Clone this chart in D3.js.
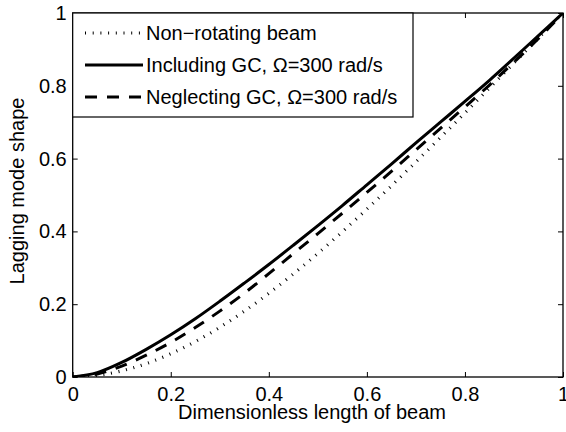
<!DOCTYPE html>
<html>
<head>
<meta charset="utf-8">
<script src="https://cdn.jsdelivr.net/npm/d3@7"></script>
<style>
  html, body { margin: 0; padding: 0; background: #fff; }
  svg { display: block; font-family: "Liberation Sans", Arial, Helvetica, sans-serif; }
</style>
</head>
<body>
<svg id="chart" width="566" height="432"></svg>
<script>
// Dimensionless position along the beam
const xs = [0, 0.05, 0.1, 0.15, 0.2, 0.25, 0.3, 0.35, 0.4, 0.45, 0.5,
            0.55, 0.6, 0.65, 0.7, 0.75, 0.8, 0.85, 0.9, 0.95, 1];

// Lagging mode shapes
const nonRotating = [0, 0.0043, 0.0168, 0.0368, 0.0639, 0.0973, 0.1365, 0.1809, 0.2299, 0.2830, 0.3395,
                     0.3991, 0.4611, 0.5252, 0.5909, 0.6578, 0.7255, 0.7938, 0.8624, 0.9312, 1.0];
const includingGC = [0, 0.012, 0.040, 0.076, 0.116, 0.160, 0.208, 0.258, 0.309, 0.362, 0.416,
                     0.471, 0.528, 0.585, 0.643, 0.700, 0.757, 0.815, 0.876, 0.938, 1.0];
const neglectingGC = [0, 0.008, 0.030, 0.060, 0.095, 0.136, 0.181, 0.230, 0.284, 0.339, 0.394,
                      0.450, 0.507, 0.565, 0.624, 0.683, 0.742, 0.802, 0.865, 0.930, 1.0];

const xTicks = [0, 0.2, 0.4, 0.6, 0.8, 1];
const yTicks = [0, 0.2, 0.4, 0.6, 0.8, 1];
const tickLabels = ["0", "0.2", "0.4", "0.6", "0.8", "1"];

const seriesNames = ["Non\u2212rotating beam", "Including GC, \u03A9=300 rad/s", "Neglecting GC, \u03A9=300 rad/s"];

const svg = d3.select("#chart");
const margin = { left: 72.7, right: 3, top: 13, bottom: 55 };
const W = 566, H = 432;
const x = d3.scaleLinear().domain([0, 1]).range([margin.left, W - margin.right]);
const y = d3.scaleLinear().domain([0, 1]).range([H - margin.bottom, margin.top]);

const fontSize = 20;
const labelFmt = d => tickLabels[xTicks.indexOf(d)];

svg.append("defs").append("clipPath").attr("id", "plotclip")
  .append("rect")
  .attr("x", x(0)).attr("y", y(1))
  .attr("width", x(1) - x(0)).attr("height", y(0) - y(1));

// Curves
const line = d3.line()
  .x((d, i) => x(xs[i]))
  .y(d => y(d))
  .curve(d3.curveMonotoneX);

const plot = svg.append("g").attr("clip-path", "url(#plotclip)");

const styles = [
  { data: nonRotating, width: 3.2, dash: "1,6.7" },
  { data: includingGC, width: 3, dash: null },
  { data: neglectingGC, width: 3, dash: "12,10" }
];

styles.forEach(s => {
  plot.append("path")
    .datum(s.data)
    .attr("d", line)
    .attr("fill", "none")
    .attr("stroke", "#000")
    .attr("stroke-width", s.width)
    .attr("stroke-dasharray", s.dash);
});

// Axes with inward ticks on all four sides
const axisB = svg.append("g")
  .attr("transform", `translate(0,${y(0)})`)
  .call(d3.axisBottom(x).tickValues(xTicks).tickFormat(labelFmt)
    .tickSizeInner(-5).tickSizeOuter(0).tickPadding(10));
const axisL = svg.append("g")
  .attr("transform", `translate(${x(0)},0)`)
  .call(d3.axisLeft(y).tickValues(yTicks).tickFormat(labelFmt)
    .tickSizeInner(-5).tickSizeOuter(0).tickPadding(6));
const axisT = svg.append("g")
  .attr("transform", `translate(0,${y(1)})`)
  .call(d3.axisTop(x).tickValues(xTicks).tickFormat("")
    .tickSizeInner(-5).tickSizeOuter(0));
const axisR = svg.append("g")
  .attr("transform", `translate(${x(1)},0)`)
  .call(d3.axisRight(y).tickValues(yTicks).tickFormat("")
    .tickSizeInner(-5).tickSizeOuter(0));

[axisB, axisL, axisT, axisR].forEach(g => {
  g.select(".domain").remove();
  g.selectAll(".tick line").attr("stroke", "#000").attr("stroke-width", 1);
  g.selectAll(".tick text")
    .attr("fill", "#000")
    .style("font-size", fontSize + "px")
    .style("font-family", "\"Liberation Sans\", Arial, Helvetica, sans-serif");
});

svg.append("rect")
  .attr("x", x(0)).attr("y", y(1))
  .attr("width", x(1) - x(0)).attr("height", y(0) - y(1))
  .attr("fill", "none").attr("stroke", "#000").attr("stroke-width", 1.3);

// Axis titles
svg.append("text")
  .attr("x", 312).attr("y", 419)
  .attr("text-anchor", "middle")
  .style("font-size", fontSize + "px")
  .text("Dimensionless length of beam");

svg.append("text")
  .attr("transform", `translate(24,${(y(0) + y(1)) / 2 - 4}) rotate(-90)`)
  .attr("text-anchor", "middle")
  .style("font-size", fontSize + "px")
  .text("Lagging mode shape");

// Legend
const legend = svg.append("g");
legend.append("rect")
  .attr("x", x(0)).attr("y", y(1))
  .attr("width", 413 - x(0)).attr("height", 117 - y(1))
  .attr("fill", "#fff").attr("stroke", "#000").attr("stroke-width", 1.2);

const rowY = [33, 65, 97];
styles.forEach((s, i) => {
  legend.append("line")
    .attr("x1", 85).attr("x2", 143)
    .attr("y1", rowY[i]).attr("y2", rowY[i])
    .attr("stroke", "#000")
    .attr("stroke-width", s.width)
    .attr("stroke-dasharray", s.dash);
  legend.append("text")
    .attr("x", 146).attr("y", rowY[i] + 7)
    .style("font-size", fontSize + "px")
    .text(seriesNames[i]);
});
</script>
</body>
</html>
